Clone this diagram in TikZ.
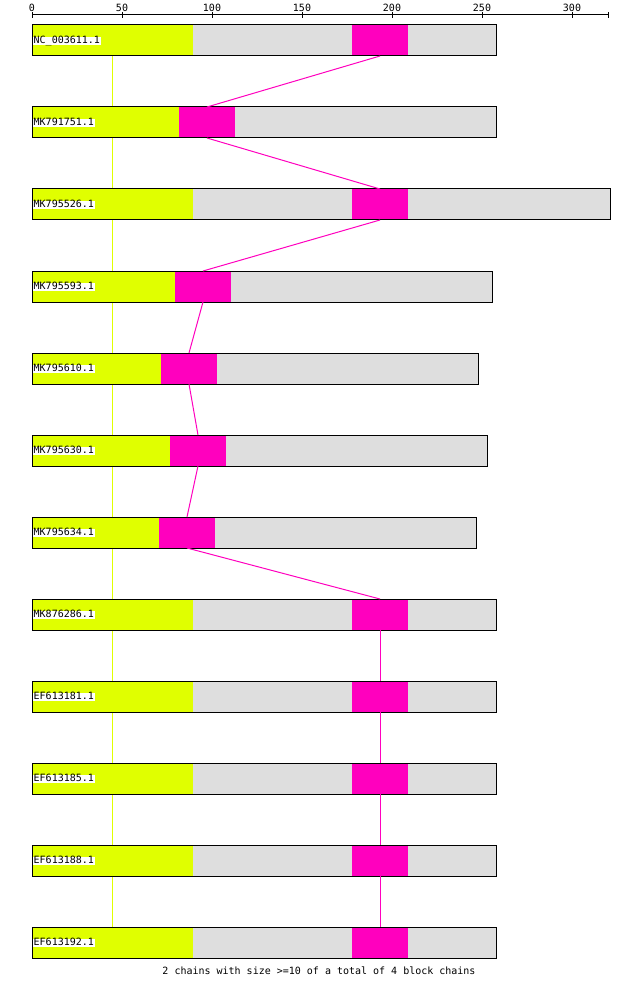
\documentclass[tikz,border=0pt]{standalone}
\usepackage{fontspec}
\newfontfamily\pixfont{DejaVu Sans Mono}
\definecolor{blkyellow}{HTML}{E0FF00}
\definecolor{blkmag}{HTML}{FF00BE}
\definecolor{blkgray}{HTML}{DEDEDE}
\tikzset{
  barbg/.style={fill=blkgray, inner sep=0pt, outer sep=0pt, minimum height=31pt, anchor=west},
  yblock/.style={fill=blkyellow, inner sep=0pt, outer sep=0pt, minimum height=31pt, anchor=west},
  mblock/.style={fill=blkmag, inner sep=0pt, outer sep=0pt, minimum height=31pt, anchor=west},
  barline/.style={draw=black, line width=1pt},
  seqlabel/.style={fill=white, inner xsep=1pt, inner ysep=0pt, text height=6.5pt, text depth=1.5pt, anchor=west, font=\pixfont\fontsize{10}{10}\selectfont},
  axlabel/.style={inner sep=0pt, font=\pixfont\fontsize{10}{10}\selectfont},
  magline/.style={draw=blkmag, line width=1pt},
  yelline/.style={draw=blkyellow, line width=1pt},
  axline/.style={draw=black, line width=1pt},
}
\begin{document}
\begin{tikzpicture}[x=1pt,y=-1pt]
\useasboundingbox (0,0) rectangle (640,984);
% yellow guide line behind the bars
\coordinate (ytop) at (112,56);
\coordinate (ybot) at (112,927);
\draw[yelline] (ytop) -- (ybot);
% axis
\coordinate (axL) at (32,15);
\coordinate (axR) at (608,15);
\draw[axline] (axL) -- (axR);
\foreach \k/\v in {0/0,1/50,2/100,3/150,4/200,5/250,6/300} {
  \coordinate (tk\k) at ({32+90*\k},15);
  \draw[axline] ([yshift=-3pt]tk\k) -- ([yshift=3pt]tk\k);
  \node[axlabel] (tl\k) at ({32+90*\k},8) {\v};
}
\coordinate (tkend) at (608,15);
\draw[axline] ([yshift=-3pt]tkend) -- ([yshift=3pt]tkend);
% bars
\foreach \i/\lab/\ye/\ms/\me/\e in {
  0/NC\_003611.1/193/352/408/496,
  1/MK791751.1/179/179/235/496,
  2/MK795526.1/193/352/408/610,
  3/MK795593.1/175/175/231/492,
  4/MK795610.1/161/161/217/478,
  5/MK795630.1/170/170/226/487,
  6/MK795634.1/159/159/215/476,
  7/MK876286.1/193/352/408/496,
  8/EF613181.1/193/352/408/496,
  9/EF613185.1/193/352/408/496,
  10/EF613188.1/193/352/408/496,
  11/EF613192.1/193/352/408/496} {
  \node[barbg, minimum width={(\e-32)*1pt}] (bar\i) at (32,{40.5+82*\i}) {};
  \node[yblock, minimum width={(\ye-32)*1pt}] (yel\i) at (32,{40.5+82*\i}) {};
  \node[mblock, minimum width={(\me-\ms)*1pt}] (mag\i) at (\ms,{40.5+82*\i}) {};
  \draw[barline] (bar\i.north west) rectangle (bar\i.south east);
  \node[seqlabel] (lab\i) at (32.5,{41+82*\i}) {\lab};
}
% magenta connectors
\foreach \a/\b in {0/1,1/2,2/3,3/4,4/5,5/6,6/7,7/8,8/9,9/10,10/11} {
  \draw[magline] (mag\a.south) -- (mag\b.north);
}
% footer
\node[axlabel] (foot) at (319,971) {2 chains with size >=10 of a total of 4 block chains};
\end{tikzpicture}
\end{document}
